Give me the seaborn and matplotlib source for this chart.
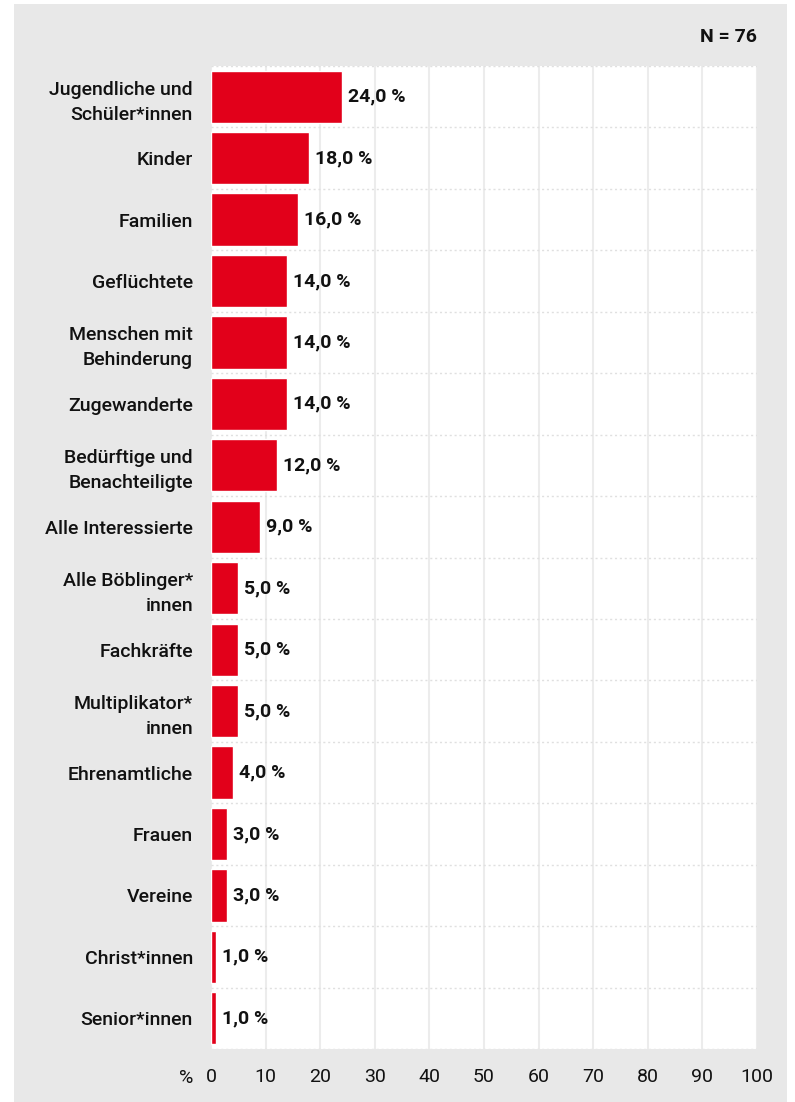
import matplotlib
matplotlib.use("Agg")
import matplotlib.pyplot as plt
from matplotlib.patches import Rectangle
import seaborn as sns
import pandas as pd

categories = [
    "Jugendliche und\nSchüler*innen", "Kinder", "Familien", "Geflüchtete",
    "Menschen mit\nBehinderung", "Zugewanderte", "Bedürftige und\nBenachteiligte",
    "Alle Interessierte", "Alle Böblinger*\ninnen", "Fachkräfte",
    "Multiplikator*\ninnen", "Ehrenamtliche", "Frauen", "Vereine",
    "Christ*innen", "Senior*innen",
]
values = [24.0, 18.0, 16.0, 14.0, 14.0, 14.0, 12.0, 9.0, 5.0, 5.0, 5.0, 4.0, 3.0, 3.0, 1.0, 1.0]
x_ticks = [0, 10, 20, 30, 40, 50, 60, 70, 80, 90, 100]
n_label = "N = 76"

RED = "#e2001a"
GRAY = "#e8e8e8"
TXT = "#111111"

sns.set_theme(style="white")
plt.rcParams["font.family"] = ["Roboto", "DejaVu Sans"]

df = pd.DataFrame({"cat": categories, "val": values})

W, H = 795, 1102
fig = plt.figure(figsize=(W / 100, H / 100), dpi=100)
fig.patch.set_facecolor("white")
fig.patches.append(Rectangle((14 / W, 0), (787 - 14) / W, (1102 - 4) / H,
                             transform=fig.transFigure, facecolor=GRAY,
                             edgecolor="none", zorder=-10))

ax = fig.add_axes([211 / W, 1 - 1049 / H, (757 - 211) / W, (1049 - 66) / H])
ax.set_facecolor("white")
sns.barplot(data=df, y="cat", x="val", orient="h", color=RED, width=0.85,
            saturation=1, ax=ax, zorder=3)

ax.set_xlim(0, 100)
ax.set_ylim(len(categories) - 0.5, -0.5)
ax.set_xticks(x_ticks)
ax.set_xticklabels([str(t) for t in x_ticks], fontsize=14, color=TXT)
ax.set_yticks(range(len(categories)))
ax.set_yticklabels(categories, fontsize=14, fontweight="medium", linespacing=1.5, color=TXT)
ax.set_yticks([i - 0.5 for i in range(len(categories) + 1)], minor=True)
ax.tick_params(axis="y", which="both", length=0, pad=13)
ax.tick_params(axis="x", length=0, pad=14)
ax.set_xlabel("")
ax.set_ylabel("")

ax.grid(axis="x", which="major", color="#ececec", linewidth=1.5, zorder=0)
ax.grid(axis="y", which="minor", color="#e0e0e0", linewidth=1, linestyle=(0, (1.5, 2)), zorder=0)
ax.grid(axis="y", which="major", visible=False)
ax.set_axisbelow(True)
for s in ax.spines.values():
    s.set_visible(False)

for i, v in enumerate(values):
    ax.annotate(f"{v:.1f}".replace(".", ",") + " %", xy=(v, i), xytext=(6, 0),
                textcoords="offset pixels", va="center", ha="left",
                fontsize=14, fontweight="bold", color=TXT)

fig.text(193 / W, 1 - 1078 / H, "%", ha="right", va="center", fontsize=14, color=TXT)
fig.text(757 / W, 1 - 37 / H, n_label, ha="right", va="center", fontsize=14,
         fontweight="bold", color=TXT)

fig.savefig("out.png", dpi=100, facecolor=fig.get_facecolor())
